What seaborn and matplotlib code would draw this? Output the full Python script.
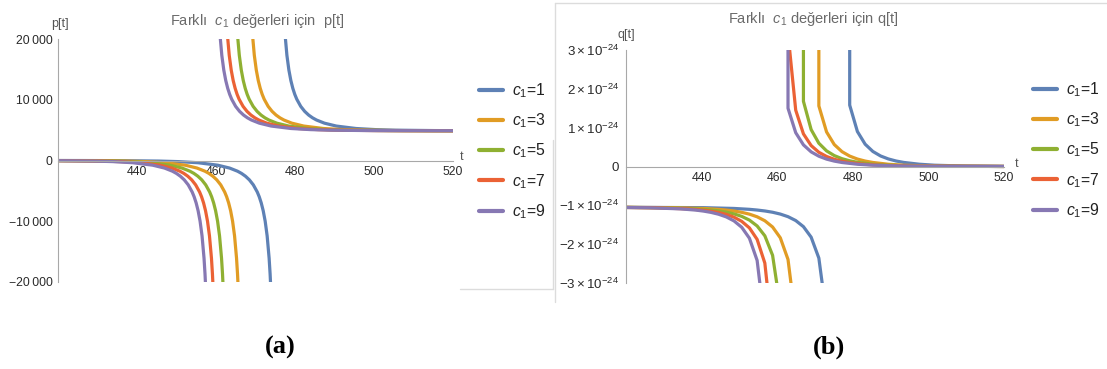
import matplotlib
matplotlib.use("Agg")
import matplotlib.pyplot as plt
import numpy as np
import pandas as pd
import seaborn as sns
from matplotlib.lines import Line2D
from matplotlib.ticker import MultipleLocator

# ---------------- data ----------------
c1_values = [1, 3, 5, 7, 9]
series_colors = ["#5E81B5", "#E19C24", "#8FB032", "#EB6235", "#8778B3"]
x_ticks = [440, 460, 480, 500, 520]
p_ticks = [-20000, -10000, 0, 10000, 20000]
p_tick_labels = ["\u221220\u2009000", "\u221210\u2009000", "0", "10\u2009000", "20\u2009000"]
q_ticks = [-3, -2, -1, 0, 1, 2, 3]          # in units of 1e-24
q_tick_labels = [r"$-3\times10^{-24}$", r"$-2\times10^{-24}$", r"$-1\times10^{-24}$", "0",
                 r"$1\times10^{-24}$", r"$2\times10^{-24}$", r"$3\times10^{-24}$"]
q_unit = 1e-24

# p[t], branch after the pole
p_up_t_1 = [477.45, 477.95, 478.45, 478.95, 479.45, 479.95, 480.45, 481.45, 482.45, 483.45, 484.45, 485.45, 487.45, 490.45, 495.45, 500.45, 505.45, 515.45, 520.0]
p_up_v_1 = [20976, 17321, 14894, 13165, 11876, 10879, 10088, 8912, 8089, 7482, 7021, 6662, 6146, 5671, 5268, 5083, 4992, 4924, 4913]
p_up_t_3 = [469.2, 469.7, 470.2, 470.7, 471.2, 471.7, 472.2, 473.2, 474.2, 475.2, 476.2, 477.2, 479.2, 482.2, 487.2, 492.2, 497.2, 507.2, 517.2, 520.0]
p_up_v_3 = [20976, 17321, 14894, 13165, 11876, 10879, 10088, 8912, 8089, 7482, 7021, 6662, 6146, 5671, 5268, 5083, 4992, 4924, 4906, 4904]
p_up_t_5 = [465.4, 465.9, 466.4, 466.9, 467.4, 467.9, 468.4, 469.4, 470.4, 471.4, 472.4, 473.4, 475.4, 478.4, 483.4, 488.4, 493.4, 503.4, 513.4, 520.0]
p_up_v_5 = [20976, 17321, 14894, 13165, 11876, 10879, 10088, 8912, 8089, 7482, 7021, 6662, 6146, 5671, 5268, 5083, 4992, 4924, 4906, 4903]
p_up_t_7 = [462.85, 463.35, 463.85, 464.35, 464.85, 465.35, 465.85, 466.85, 467.85, 468.85, 469.85, 470.85, 472.85, 475.85, 480.85, 485.85, 490.85, 500.85, 510.85, 520.0]
p_up_v_7 = [20976, 17321, 14894, 13165, 11876, 10879, 10088, 8912, 8089, 7482, 7021, 6662, 6146, 5671, 5268, 5083, 4992, 4924, 4906, 4902]
p_up_t_9 = [460.97, 461.47, 461.97, 462.47, 462.97, 463.47, 463.97, 464.97, 465.97, 466.97, 467.97, 468.97, 470.97, 473.97, 478.97, 483.97, 488.97, 498.97, 508.97, 520.0]
p_up_v_9 = [20976, 17321, 14894, 13165, 11876, 10879, 10088, 8912, 8089, 7482, 7021, 6662, 6146, 5671, 5268, 5083, 4992, 4924, 4906, 4902]

# p[t], branch before the pole
p_lo_t_1 = [420.0, 425.45, 435.45, 445.45, 450.45, 455.45, 460.45, 463.45, 465.45, 466.45, 467.45, 468.45, 469.45, 470.45, 470.95, 471.45, 471.95, 472.45, 472.95, 473.45, 473.7, 473.9]
p_lo_v_1 = [-3, -6, -24, -92, -183, -368, -771, -1246, -1762, -2121, -2582, -3188, -4013, -5188, -5979, -6976, -8266, -9994, -12421, -16082, -18696, -21407]
p_lo_t_3 = [420.0, 427.2, 437.2, 442.2, 447.2, 452.2, 455.2, 457.2, 458.2, 459.2, 460.2, 461.2, 462.2, 462.7, 463.2, 463.7, 464.2, 464.7, 465.2, 465.45, 465.65]
p_lo_v_3 = [-9, -24, -92, -183, -368, -771, -1246, -1762, -2121, -2582, -3188, -4013, -5188, -5979, -6976, -8266, -9994, -12421, -16082, -18696, -21407]
p_lo_t_5 = [420.0, 423.4, 433.4, 438.4, 443.4, 448.4, 451.4, 453.4, 454.4, 455.4, 456.4, 457.4, 458.4, 458.9, 459.4, 459.9, 460.4, 460.9, 461.4, 461.65, 461.85]
p_lo_v_5 = [-15, -24, -92, -183, -368, -771, -1246, -1762, -2121, -2582, -3188, -4013, -5188, -5979, -6976, -8266, -9994, -12421, -16082, -18696, -21407]
p_lo_t_7 = [420.0, 430.85, 435.85, 440.85, 445.85, 448.85, 450.85, 451.85, 452.85, 453.85, 454.85, 455.85, 456.35, 456.85, 457.35, 457.85, 458.35, 458.85, 459.1, 459.3]
p_lo_v_7 = [-21, -92, -183, -368, -771, -1246, -1762, -2121, -2582, -3188, -4013, -5188, -5979, -6976, -8266, -9994, -12421, -16082, -18696, -21407]
p_lo_t_9 = [420.0, 428.97, 433.97, 438.97, 443.97, 446.97, 448.97, 449.97, 450.97, 451.97, 452.97, 453.97, 454.47, 454.97, 455.47, 455.97, 456.47, 456.97, 457.22, 457.42]
p_lo_v_9 = [-28, -92, -183, -368, -771, -1246, -1762, -2121, -2582, -3188, -4013, -5188, -5979, -6976, -8266, -9994, -12421, -16082, -18696, -21407]

# q[t] (units of 1e-24), branch after the pole
q_up_t_1 = [479.18, 479.18, 481.22, 483.27, 485.31, 487.35, 489.39, 491.43, 493.47, 497.55, 501.63, 509.80, 520.0]
q_up_v_1 = [3.6, 1.58, 0.90, 0.574, 0.387, 0.271, 0.195, 0.142, 0.105, 0.059, 0.033, 0.011, 0.003]
q_up_t_3 = [471.02, 471.02, 473.06, 475.10, 477.14, 479.18, 481.22, 483.27, 485.31, 489.39, 493.47, 501.63, 520.0]
q_up_v_3 = [3.6, 1.56, 0.89, 0.565, 0.382, 0.268, 0.192, 0.140, 0.104, 0.058, 0.033, 0.011, 0.001]
q_up_t_5 = [466.94, 466.94, 468.98, 471.02, 473.06, 475.10, 477.14, 479.18, 481.22, 485.31, 489.39, 497.55, 520.0]
q_up_v_5 = [3.6, 1.68, 0.95, 0.599, 0.402, 0.281, 0.201, 0.147, 0.108, 0.060, 0.034, 0.011, 0.001]
q_up_t_7 = [462.86, 464.90, 466.94, 468.98, 471.02, 473.06, 475.10, 477.14, 479.18, 483.27, 487.35, 495.51, 520.0]
q_up_v_7 = [3.42, 1.45, 0.84, 0.539, 0.366, 0.258, 0.186, 0.136, 0.100, 0.056, 0.032, 0.010, 0.001]
q_up_t_9 = [462.86, 462.86, 464.90, 466.94, 468.98, 471.02, 473.06, 475.10, 477.14, 481.22, 485.31, 493.47, 520.0]
q_up_v_9 = [3.6, 1.50, 0.87, 0.557, 0.377, 0.265, 0.190, 0.139, 0.103, 0.058, 0.033, 0.011, 0.001]

# q[t] (units of 1e-24), branch before the pole
q_lo_t_1 = [420.0, 440.41, 448.57, 452.65, 454.69, 456.73, 458.78, 460.82, 462.86, 464.90, 466.94, 468.98, 471.02, 473.06]
q_lo_v_1 = [-1.051, -1.060, -1.080, -1.103, -1.121, -1.145, -1.178, -1.225, -1.292, -1.392, -1.549, -1.820, -2.359, -3.858]
q_lo_t_3 = [420.0, 432.24, 440.41, 444.49, 446.53, 448.57, 450.61, 452.65, 454.69, 456.73, 458.78, 460.82, 462.86, 464.90]
q_lo_v_3 = [-1.052, -1.060, -1.081, -1.104, -1.122, -1.146, -1.180, -1.227, -1.295, -1.397, -1.558, -1.836, -2.394, -3.98]
q_lo_t_5 = [420.0, 430.20, 438.37, 442.45, 444.49, 446.53, 448.57, 450.61, 452.65, 454.69, 456.73, 458.78, 460.82]
q_lo_v_5 = [-1.054, -1.063, -1.089, -1.119, -1.142, -1.175, -1.220, -1.284, -1.380, -1.531, -1.785, -2.287, -3.617]
q_lo_t_7 = [420.0, 428.16, 436.33, 440.41, 442.45, 444.49, 446.53, 448.57, 450.61, 452.65, 454.69, 456.73, 458.78]
q_lo_v_7 = [-1.055, -1.064, -1.092, -1.124, -1.150, -1.184, -1.234, -1.305, -1.412, -1.581, -1.877, -2.488, -4.36]
q_lo_t_9 = [420.0, 426.12, 434.29, 438.37, 440.41, 442.45, 444.49, 446.53, 448.57, 450.61, 452.65, 454.69, 456.73]
q_lo_v_9 = [-1.056, -1.063, -1.091, -1.122, -1.147, -1.181, -1.229, -1.298, -1.401, -1.565, -1.847, -2.419, -4.08]

# ---------------- assemble long tables ----------------
labels = [r"$c_1$=%d" % c for c in c1_values]
p_branches = {
    1: [(p_lo_t_1, p_lo_v_1), (p_up_t_1, p_up_v_1)],
    3: [(p_lo_t_3, p_lo_v_3), (p_up_t_3, p_up_v_3)],
    5: [(p_lo_t_5, p_lo_v_5), (p_up_t_5, p_up_v_5)],
    7: [(p_lo_t_7, p_lo_v_7), (p_up_t_7, p_up_v_7)],
    9: [(p_lo_t_9, p_lo_v_9), (p_up_t_9, p_up_v_9)],
}
q_branches = {
    1: [(q_lo_t_1, q_lo_v_1), (q_up_t_1, q_up_v_1)],
    3: [(q_lo_t_3, q_lo_v_3), (q_up_t_3, q_up_v_3)],
    5: [(q_lo_t_5, q_lo_v_5), (q_up_t_5, q_up_v_5)],
    7: [(q_lo_t_7, q_lo_v_7), (q_up_t_7, q_up_v_7)],
    9: [(q_lo_t_9, q_lo_v_9), (q_up_t_9, q_up_v_9)],
}


def long_frame(branches, scale=1.0):
    parts = []
    for c, lab in zip(c1_values, labels):
        for k, (tt, vv) in enumerate(branches[c]):
            parts.append(pd.DataFrame({"t": tt, "v": np.asarray(vv, float) * scale,
                                       "c1": lab, "branch": "%d_%d" % (c, k)}))
    return pd.concat(parts, ignore_index=True)


df_p = long_frame(p_branches)
df_q = long_frame(q_branches, q_unit)

# ---------------- style ----------------
sns.set_style("white")
plt.rcParams["font.family"] = ["Liberation Sans", "DejaVu Sans"]
plt.rcParams["mathtext.fontset"] = "custom"
plt.rcParams["mathtext.rm"] = "Liberation Sans"
plt.rcParams["mathtext.it"] = "Liberation Sans:italic"
plt.rcParams["mathtext.bf"] = "Liberation Sans:bold"

W, H = 1107, 369
fig = plt.figure(figsize=(W / 100, H / 100), dpi=100)


def px_axes(x0, y0, x1, y1):
    return fig.add_axes([x0 / W, 1 - y1 / H, (x1 - x0) / W, (y1 - y0) / H])


axL = px_axes(58, 39, 453, 282)
axR = px_axes(626, 50, 1004, 283)

axis_gray = "#a8a8a8"
tick_txt = "#2a2a2a"
lab_gray = "#555555"
title_gray = "#6a6a6a"


def style_axes(ax):
    for s in ("top", "right"):
        ax.spines[s].set_visible(False)
    ax.spines["bottom"].set_position(("data", 0))
    for s in ("left", "bottom"):
        ax.spines[s].set_color(axis_gray)
        ax.spines[s].set_linewidth(0.8)
    ax.tick_params(axis="both", which="major", direction="in", length=4, width=0.8,
                   color=axis_gray, labelcolor=tick_txt, labelsize=8.8)
    ax.tick_params(axis="both", which="minor", direction="in", length=2.3, width=0.6,
                   color=axis_gray)
    ax.tick_params(axis="x", pad=4)
    ax.tick_params(axis="y", pad=4)
    ax.set_xlim(420, 520)
    ax.set_xticks(x_ticks)
    ax.xaxis.set_minor_locator(MultipleLocator(5))
    ax.set_xlabel("")
    ax.set_ylabel("")
    ax.grid(False)


for ax, df in ((axL, df_p), (axR, df_q)):
    sns.lineplot(data=df, x="t", y="v", hue="c1", hue_order=labels, palette=series_colors,
                 units="branch", estimator=None, sort=False, lw=2.3, ax=ax)
    style_axes(ax)

axL.set_ylim(-20000, 20000)
axL.set_yticks(p_ticks)
axL.set_yticklabels(p_tick_labels)
axL.yaxis.set_minor_locator(MultipleLocator(2000))

axR.set_ylim(-3 * q_unit, 3 * q_unit)
axR.set_yticks([v * q_unit for v in q_ticks])
axR.set_yticklabels(q_tick_labels)
axR.yaxis.set_minor_locator(MultipleLocator(0.2 * q_unit))
axR.tick_params(axis="y", labelsize=9.6, pad=5)

# legends
for ax, (lx, ly) in ((axL, (479, 151)), (axR, (1033, 150))):
    sns.move_legend(ax, "center left", bbox_to_anchor=(lx / W, 1 - ly / H),
                    bbox_transform=fig.transFigure, frameon=False, title=None,
                    fontsize=11.3, handlelength=1.5, handletextpad=0.6,
                    labelspacing=0.74, borderpad=0, borderaxespad=0)
    leg = ax.get_legend()
    for h in leg.legend_handles:
        h.set_linewidth(3.0)
    for t in leg.get_texts():
        t.set_color("#222222")

# titles / axis labels
fig.text(257 / W, 1 - 21 / H, "Farklı  $c_1$ değerleri için  p[t]", ha="center", va="center",
         fontsize=10.5, color=title_gray)
fig.text(813 / W, 1 - 19 / H, "Farklı  $c_1$ değerleri için q[t]", ha="center", va="center",
         fontsize=10.5, color=title_gray)
fig.text(60 / W, 1 - 24 / H, "p[t]", ha="center", va="center", fontsize=9, color=lab_gray)
fig.text(462 / W, 1 - 157 / H, "t", ha="center", va="center", fontsize=9, color=lab_gray)
fig.text(626 / W, 1 - 35 / H, "q[t]", ha="center", va="center", fontsize=9, color=lab_gray)
fig.text(1017 / W, 1 - 164 / H, "t", ha="center", va="center", fontsize=9, color=lab_gray)

# panel captions
fig.text(280 / W, 1 - 347 / H, "(a)", ha="center", va="center", fontsize=19,
         fontweight="bold", family=["Liberation Serif", "DejaVu Serif"], color="black")
fig.text(829 / W, 1 - 347 / H, "(b)", ha="center", va="center", fontsize=19,
         fontweight="bold", family=["Liberation Serif", "DejaVu Serif"], color="black")

# faint screenshot frame lines
frame_c = "#dcdcdc"
for (x0, y0, x1, y1) in ((553, 140, 553, 289), (460, 289, 553, 289),
                         (555, 3, 555, 302), (555, 3, 1107, 3)):
    fig.add_artist(Line2D([x0 / W, x1 / W], [1 - y0 / H, 1 - y1 / H],
                          transform=fig.transFigure, color=frame_c, lw=1.0))

fig.savefig("out.png", dpi=100, facecolor="white")
